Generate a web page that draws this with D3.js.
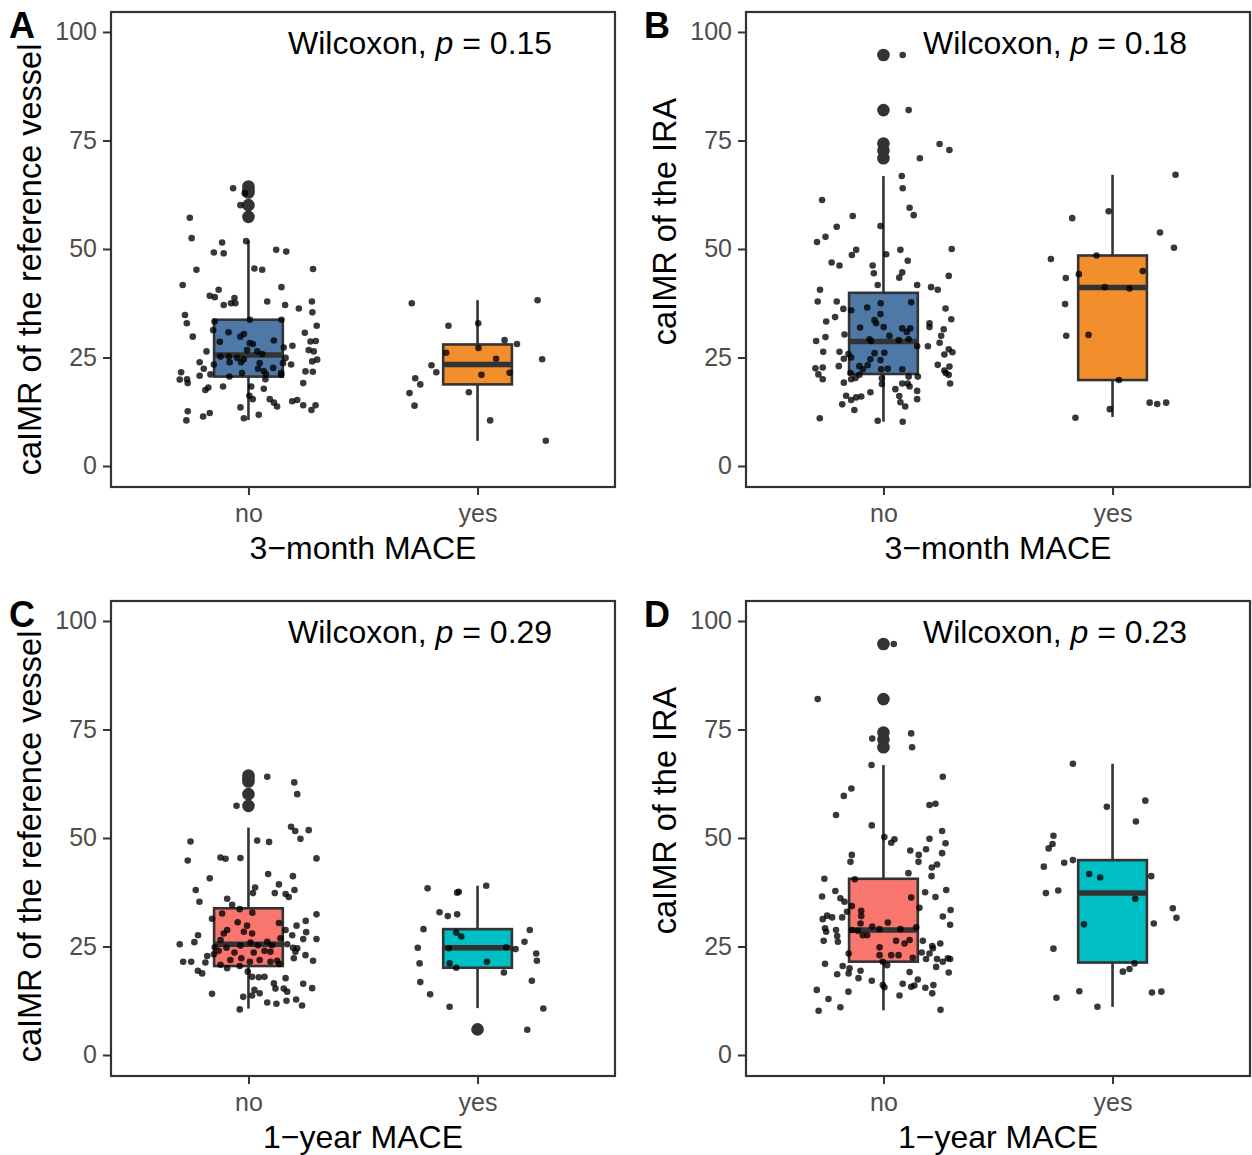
<!DOCTYPE html>
<html>
<head>
<meta charset="utf-8">
<script src="https://cdn.jsdelivr.net/npm/d3@7"></script>
<style>
  body { margin: 0; background: #fff; }
  #viz svg { display: block; font-family: "Liberation Sans", Arial, Helvetica, sans-serif; }
</style>
</head>
<body>
<div id="viz"></div>
<script>
// categories and ticks
const groups = ["no", "yes"];
const yTicks = [0, 25, 50, 75, 100];

// box stats: [whiskerLow, q1, median, q3, whiskerHigh]
const boxRef3m  = { no: [10.6, 20.6, 25.6, 33.7, 52.0], yes: [5.8, 18.8, 23.4, 28.0, 38.2] };
const boxIra3m  = { no: [10.2, 21.2, 28.7, 39.9, 66.8], yes: [11.3, 19.8, 41.1, 48.5, 67.1] };
const boxRef1y  = { no: [10.7, 20.5, 25.5, 33.8, 52.4], yes: [10.8, 20.1, 24.7, 29.0, 39.0] };
const boxIra1y  = { no: [10.3, 21.5, 28.8, 40.6, 66.8], yes: [11.1, 21.3, 37.3, 44.9, 67.1] };

// outliers (drawn large, at the category centre)
const outRefNo = [64.4, 63.6, 63.0, 60.1, 57.4];
const outIraNo = [94.7, 82.0, 74.3, 72.7, 70.9];
const outRef1yYes = [5.9];

// jittered observations: [jitter offset in category units, caIMR]
const ptsRef3mNo = [[-0.067,64.0],[-0.016,62.8],[-0.035,60.1],[-0.256,57.2],[-0.248,52.5],[-0.01,51.8],[-0.115,51.5],[-0.151,49.2],[-0.108,49.0],[0.121,49.8],[0.165,49.4],[-0.227,45.2],[0.026,45.5],[0.06,45.2],[0.282,45.4],[-0.287,41.7],[-0.13,40.6],[0.144,41.2],[-0.169,39.2],[-0.147,38.9],[-0.061,38.7],[-0.076,37.5],[-0.108,37.1],[-0.057,37.5],[0.082,37.9],[0.16,37.1],[0.22,36.3],[0.277,37.9],[-0.277,34.8],[0.279,35.4],[-0.269,32.9],[0.006,33.7],[-0.148,33.3],[0.144,33.7],[0.298,32.3],[-0.154,31.3],[-0.243,29.8],[-0.087,30.8],[-0.035,29.8],[-0.02,30.4],[0.246,30.7],[0.111,28.9],[-0.125,28.6],[0.006,28.3],[0.02,28.1],[0.154,27.3],[0.192,27.7],[0.271,28.7],[0.294,28.8],[-0.006,26.7],[0.038,26.4],[0.06,25.8],[0.263,26.7],[0.285,26.4],[-0.183,26.4],[-0.122,25.2],[-0.086,25.2],[-0.049,24.9],[-0.02,24.6],[0.162,24.9],[0.3,24.5],[0.278,24.1],[-0.082,23.9],[-0.032,23.9],[0.049,23.7],[0.151,23.7],[-0.213,23.9],[-0.151,23.4],[0.186,23.4],[-0.195,22.4],[0.042,22.4],[0.108,22.6],[-0.294,21.6],[-0.028,21.4],[0.067,21.9],[0.076,21.2],[0.143,21.5],[0.249,21.8],[0.281,21.7],[-0.213,20.8],[-0.166,21.1],[-0.3,19.9],[-0.268,20.0],[-0.265,19.1],[-0.083,20.6],[0.074,20.0],[0.143,21.0],[0.239,19.1],[-0.111,18.3],[0.012,18.3],[0.067,17.8],[-0.188,17.5],[-0.175,18.1],[0.004,16.2],[0.019,15.4],[0.093,15.4],[0.111,14.6],[0.125,13.7],[0.191,14.9],[0.213,15.2],[0.239,14.0],[0.275,12.9],[0.293,14.0],[-0.035,13.5],[-0.265,12.6],[-0.169,12.2],[-0.198,11.4],[-0.271,10.5],[-0.02,11.0],[0.045,11.8]];
const ptsRef3mYes = [[-0.287,37.5],[0.262,38.2],[0.003,32.9],[-0.127,32.3],[0.118,29.0],[0.172,28.1],[-0.137,26.1],[0.004,27.2],[0.081,24.7],[0.282,24.6],[-0.201,23.2],[-0.18,21.6],[0.017,21.0],[0.14,21.5],[-0.272,20.2],[-0.25,18.8],[-0.038,17.0],[-0.297,16.8],[-0.275,13.9],[0.055,10.5],[0.298,5.8]];
const ptsIra3mNo = [[0.084,94.7],[0.11,82.0],[0.245,74.2],[0.288,72.8],[0.159,70.9],[0.08,66.8],[0.084,64.0],[-0.268,61.3],[0.114,59.5],[0.132,57.8],[-0.134,57.6],[-0.204,55.1],[-0.013,55.3],[-0.253,52.8],[-0.29,51.6],[-0.119,49.8],[-0.138,48.6],[0.012,48.8],[0.074,49.8],[0.106,47.3],[0.298,50.0],[-0.226,46.9],[-0.192,46.2],[-0.047,46.2],[-0.042,44.4],[0.082,44.6],[0.069,43.4],[0.285,43.8],[-0.025,41.7],[0.147,41.7],[0.208,41.2],[0.237,40.6],[-0.277,40.6],[-0.287,37.9],[-0.204,37.9],[-0.012,37.5],[0.121,37.7],[-0.175,36.2],[-0.141,35.9],[-0.071,36.5],[-0.013,35.0],[0.271,36.3],[-0.211,34.3],[-0.25,33.3],[-0.039,33.6],[-0.032,32.9],[0.296,33.8],[0.201,32.9],[0.201,32.0],[-0.102,31.9],[0.001,32.0],[0.082,31.7],[0.117,31.7],[0.102,30.9],[0.263,31.5],[0.252,30.0],[-0.17,30.3],[0.026,30.0],[-0.253,29.7],[-0.294,28.8],[-0.061,29.2],[-0.054,28.8],[0.067,29.0],[0.11,29.2],[0.147,27.6],[0.194,27.6],[0.245,28.4],[-0.263,26.3],[-0.192,26.3],[-0.153,25.8],[-0.141,25.0],[-0.039,26.0],[0.004,26.1],[0.266,25.7],[0.285,26.9],[0.301,26.2],[-0.173,24.7],[-0.057,24.6],[-0.013,24.4],[-0.069,23.2],[-0.195,23.0],[-0.105,23.0],[0.237,23.3],[0.288,22.9],[-0.297,22.5],[-0.265,22.7],[-0.09,22.3],[-0.01,22.3],[0.019,22.4],[0.082,22.3],[0.266,22.0],[-0.284,21.1],[-0.144,21.4],[-0.105,21.0],[0.272,21.4],[0.285,21.0],[-0.265,20.0],[-0.141,20.0],[-0.122,20.3],[-0.007,20.2],[0.11,20.6],[0.15,20.6],[-0.173,19.2],[-0.007,18.9],[0.082,19.0],[0.106,19.0],[0.291,19.0],[0.114,18.3],[0.052,17.7],[0.147,17.3],[-0.057,17.0],[0.069,16.1],[-0.163,16.2],[-0.119,15.8],[-0.097,16.0],[0.147,15.4],[-0.141,15.2],[0.074,14.7],[-0.18,14.2],[0.095,13.7],[-0.127,12.9],[-0.278,11.0],[-0.025,10.4],[0.084,10.2]];
const ptsIra3mYes = [[0.275,67.1],[-0.017,58.7],[-0.176,57.1],[0.207,53.8],[0.268,50.3],[-0.269,47.7],[-0.07,48.5],[-0.147,44.2],[-0.204,43.3],[0.132,44.9],[-0.034,41.2],[0.074,40.9],[-0.207,37.3],[-0.202,30.0],[-0.105,30.2],[0.028,19.8],[0.162,14.6],[0.195,14.3],[0.234,14.6],[-0.012,13.1],[-0.162,11.1]];
const ptsRef1yNo = [[0.082,64.1],[0.2,62.8],[0.213,60.1],[-0.052,57.4],[0.186,52.6],[0.204,51.6],[0.263,51.8],[0.227,49.8],[-0.253,49.2],[0.038,49.4],[0.09,49.1],[-0.265,44.8],[-0.122,45.5],[-0.1,45.2],[-0.035,45.4],[0.297,45.3],[0.086,41.7],[-0.169,40.7],[0.194,41.2],[0.029,38.6],[0.133,39.3],[-0.23,38.0],[0.201,38.0],[0.02,37.3],[0.115,37.3],[0.162,37.1],[0.176,36.4],[-0.214,35.3],[-0.093,36.0],[-0.071,34.6],[-0.038,33.6],[-0.115,32.6],[0.017,32.8],[0.297,32.4],[-0.159,31.4],[-0.047,30.6],[0.133,30.4],[0.25,30.9],[0.21,29.8],[-0.093,28.8],[-0.108,28.0],[-0.02,28.4],[-0.006,29.8],[0.016,28.0],[0.162,28.8],[0.252,28.3],[-0.22,27.6],[0.191,27.6],[0.239,26.7],[0.297,26.7],[-0.236,26.0],[-0.122,26.5],[0.14,26.9],[0.009,25.9],[0.041,25.3],[-0.3,25.5],[0.169,25.5],[-0.147,24.8],[-0.096,24.7],[-0.035,25.2],[0.082,26.1],[0.103,25.3],[0.195,24.7],[0.213,24.6],[-0.13,24.0],[-0.061,23.6],[0.023,23.6],[0.07,24.0],[0.096,23.8],[0.205,23.8],[-0.18,22.8],[-0.151,23.2],[0.249,23.0],[-0.285,21.5],[-0.25,21.5],[-0.188,21.3],[-0.079,21.9],[-0.031,22.3],[0.006,21.5],[0.049,21.9],[0.096,21.5],[0.125,21.7],[0.198,22.3],[0.282,21.7],[-0.122,20.8],[-0.093,20.0],[-0.038,20.5],[0.134,21.0],[-0.221,19.4],[-0.202,18.8],[-0.003,19.2],[0.016,18.0],[0.045,17.9],[0.07,18.0],[0.162,17.7],[0.111,16.5],[0.239,16.4],[0.118,15.3],[0.154,15.3],[0.278,15.4],[0.026,15.0],[0.049,14.2],[0.169,14.6],[-0.159,14.1],[-0.023,13.4],[0.016,13.7],[0.082,12.1],[0.122,11.8],[0.166,12.5],[0.208,12.8],[0.234,11.4],[-0.038,10.5]];
const ptsRef1yYes = [[-0.218,38.4],[0.038,39.0],[-0.089,37.4],[-0.082,37.6],[-0.166,32.9],[-0.13,32.0],[-0.089,32.4],[-0.236,29.0],[0.228,28.8],[-0.093,28.2],[-0.071,27.3],[0.205,26.1],[-0.261,24.7],[-0.125,24.6],[0.125,24.8],[0.166,24.4],[0.256,23.4],[0.259,21.7],[-0.253,21.1],[-0.122,21.1],[-0.093,20.1],[0.041,21.5],[0.115,19.0],[-0.25,16.8],[0.237,17.1],[-0.207,14.0],[-0.122,11.1],[0.287,10.7],[0.217,5.8]];
const ptsIra1yNo = [[0.045,94.7],[-0.287,82.0],[-0.049,72.9],[0.121,74.1],[0.125,70.9],[-0.052,66.8],[0.259,64.1],[-0.14,61.4],[-0.173,59.7],[0.201,57.6],[0.227,57.9],[-0.207,55.3],[-0.051,52.9],[0.256,51.6],[0.004,50.2],[0.034,48.9],[0.048,49.7],[0.201,49.8],[0.271,48.8],[0.117,47.1],[0.186,47.4],[0.154,46.1],[0.256,46.5],[-0.138,46.1],[-0.144,44.5],[0.153,44.5],[0.211,43.2],[0.234,43.9],[0.109,41.9],[0.21,41.2],[-0.258,40.6],[-0.125,40.5],[-0.21,37.8],[0.182,37.5],[0.274,38.0],[-0.268,36.5],[-0.188,36.1],[-0.17,35.3],[0.121,36.3],[0.227,36.4],[-0.138,34.3],[0.157,33.9],[0.293,33.4],[-0.159,33.0],[-0.097,33.2],[-0.097,32.0],[-0.246,32.1],[-0.224,31.7],[-0.265,31.3],[-0.18,31.7],[0.259,31.9],[-0.1,30.3],[0.019,30.5],[0.291,30.0],[-0.255,29.2],[-0.25,28.4],[-0.207,28.8],[-0.138,28.8],[-0.112,28.6],[-0.049,29.6],[-0.017,29.0],[0.074,29.0],[0.143,29.4],[-0.09,27.6],[-0.071,27.6],[-0.202,27.4],[-0.199,26.1],[-0.261,26.3],[0.055,26.3],[0.114,26.5],[0.092,25.7],[0.172,26.3],[0.248,25.7],[-0.017,24.8],[0.213,25.1],[0.216,24.6],[-0.152,23.4],[-0.017,23.0],[0.034,23.0],[0.066,23.0],[0.128,22.4],[0.167,23.6],[0.186,22.1],[0.201,23.4],[0.234,22.1],[0.281,22.3],[0.291,22.1],[-0.003,21.5],[0.016,20.7],[0.23,20.3],[0.259,21.5],[-0.255,21.0],[-0.178,20.5],[-0.148,20.0],[-0.152,18.8],[-0.1,19.4],[-0.202,18.6],[-0.109,17.7],[0.114,19.1],[0.285,19.0],[0.15,17.4],[-0.051,17.1],[0.084,16.4],[0.121,15.7],[0.135,16.0],[-0.003,16.1],[0.004,15.6],[0.183,15.5],[0.218,16.1],[0.213,14.2],[-0.291,15.0],[-0.153,14.6],[0.07,13.7],[-0.24,12.9],[-0.188,11.0],[-0.283,10.2],[0.249,10.4]];
const ptsIra1yYes = [[-0.173,67.1],[0.143,58.6],[-0.025,57.2],[0.102,53.8],[-0.258,50.5],[-0.262,48.6],[-0.279,47.6],[-0.173,44.9],[-0.211,44.3],[-0.3,43.4],[-0.102,41.7],[-0.054,40.9],[0.169,41.2],[-0.291,37.3],[-0.237,37.9],[0.099,36.0],[0.263,33.8],[0.279,31.6],[-0.125,30.1],[0.18,30.3],[-0.258,24.5],[0.096,21.1],[0.074,19.8],[0.045,19.2],[-0.145,14.7],[0.172,14.4],[0.213,14.6],[-0.245,13.2],[-0.066,11.1]];

const panels = [
  { tag: "A", col: 0, row: 0, ylab: "caIMR of the reference vessel", ylabShift: 10, xlab: "3\u2212month MACE", p: "0.15",
    fills: ["#4E79A7", "#F28E2B"], box: boxRef3m, out: { no: outRefNo, yes: [] }, pts: { no: ptsRef3mNo, yes: ptsRef3mYes } },
  { tag: "B", col: 1, row: 0, ylab: "caIMR of the IRA", ylabShift: -28, xlab: "3\u2212month MACE", p: "0.18",
    fills: ["#4E79A7", "#F28E2B"], box: boxIra3m, out: { no: outIraNo, yes: [] }, pts: { no: ptsIra3mNo, yes: ptsIra3mYes } },
  { tag: "C", col: 0, row: 1, ylab: "caIMR of the reference vessel", ylabShift: 8, xlab: "1\u2212year MACE", p: "0.29",
    fills: ["#F8766D", "#00BFC4"], box: boxRef1y, out: { no: outRefNo, yes: outRef1yYes }, pts: { no: ptsRef1yNo, yes: ptsRef1yYes } },
  { tag: "D", col: 1, row: 1, ylab: "caIMR of the IRA", ylabShift: -28, xlab: "1\u2212year MACE", p: "0.23",
    fills: ["#F8766D", "#00BFC4"], box: boxIra1y, out: { no: outIraNo, yes: [] }, pts: { no: ptsIra1yNo, yes: ptsIra1yYes } }
];

const W = 1252, H = 1155;
const PW = 504, PH = 475;        // panel (plot area) size
const originX = [111, 746], originY = [12, 601];
const DARK = "#333333", GREY = "#4D4D4D";
const boxW = 0.3;

const svg = d3.select("#viz").append("svg").attr("width", W).attr("height", H);

const x = d3.scaleLinear().domain([0.4, 2.6]).range([0, PW]);
const y = d3.scaleLinear().domain([-4.84, 104.6]).range([PH, 0]);

panels.forEach(pn => {
  const ox = originX[pn.col], oy = originY[pn.row];
  const g = svg.append("g").attr("transform", `translate(${ox},${oy})`);
  const gi = d => groups.indexOf(d) + 1;

  // axes (ticks + labels)
  const yAxis = g.append("g").call(d3.axisLeft(y).tickValues(yTicks).tickSize(8).tickPadding(6));
  const xAxis = g.append("g").attr("transform", `translate(0,${PH})`)
    .call(d3.axisBottom(x).tickValues([1, 2]).tickFormat(d => groups[d - 1]).tickSize(8).tickPadding(8));
  [yAxis, xAxis].forEach(a => {
    a.select(".domain").remove();
    a.selectAll(".tick line").attr("stroke", DARK).attr("stroke-width", 2);
    a.selectAll(".tick text").attr("fill", GREY).style("font-size", "25px").style("font-family", "inherit");
  });
  xAxis.selectAll(".tick text").attr("dy", "0.75em");

  // boxes
  groups.forEach((grp, i) => {
    const [lo, q1, med, q3, hi] = pn.box[grp];
    const cx = x(gi(grp));
    const bx = g.append("g");
    bx.append("line").attr("x1", cx).attr("x2", cx).attr("y1", y(hi)).attr("y2", y(q3))
      .attr("stroke", DARK).attr("stroke-width", 2.6);
    bx.append("line").attr("x1", cx).attr("x2", cx).attr("y1", y(q1)).attr("y2", y(lo))
      .attr("stroke", DARK).attr("stroke-width", 2.6);
    bx.append("rect")
      .attr("x", x(gi(grp) - boxW / 2)).attr("width", x(gi(grp) + boxW / 2) - x(gi(grp) - boxW / 2))
      .attr("y", y(q3)).attr("height", y(q1) - y(q3))
      .attr("fill", pn.fills[i]).attr("stroke", DARK).attr("stroke-width", 2.6);
    bx.append("line")
      .attr("x1", x(gi(grp) - boxW / 2)).attr("x2", x(gi(grp) + boxW / 2))
      .attr("y1", y(med)).attr("y2", y(med))
      .attr("stroke", DARK).attr("stroke-width", 5.5);
    bx.selectAll("circle.out").data(pn.out[grp]).join("circle")
      .attr("class", "out").attr("cx", cx).attr("cy", d => y(d)).attr("r", 6.3).attr("fill", DARK);
  });

  // jittered points
  groups.forEach(grp => {
    g.append("g").selectAll("circle").data(pn.pts[grp]).join("circle")
      .attr("cx", d => x(gi(grp) + d[0])).attr("cy", d => y(d[1]))
      .attr("r", 3.3).attr("fill", "#000").attr("fill-opacity", 0.78);
  });

  // panel border
  g.append("rect").attr("x", 0).attr("y", 0).attr("width", PW).attr("height", PH)
    .attr("fill", "none").attr("stroke", DARK).attr("stroke-width", 2.2);

  // test annotation
  const ann = g.append("text").attr("x", 177).attr("y", 42).style("font-size", "32px").attr("fill", "#000");
  ann.append("tspan").text("Wilcoxon, ");
  ann.append("tspan").style("font-style", "italic").text("p");
  ann.append("tspan").text(" = " + pn.p);

  // axis titles
  g.append("text").attr("x", PW / 2).attr("y", PH + 72).attr("text-anchor", "middle")
    .style("font-size", "32px").attr("fill", "#000").text(pn.xlab);
  g.append("text")
    .attr("transform", `translate(${-70},${PH / 2 + pn.ylabShift}) rotate(-90)`)
    .attr("text-anchor", "middle").style("font-size", "32.5px").attr("fill", "#000").text(pn.ylab);

  // panel tag
  svg.append("text").attr("x", ox - 102).attr("y", oy + 26)
    .style("font-size", "36px").style("font-weight", "bold").attr("fill", "#000").text(pn.tag);
});
</script>
</body>
</html>
